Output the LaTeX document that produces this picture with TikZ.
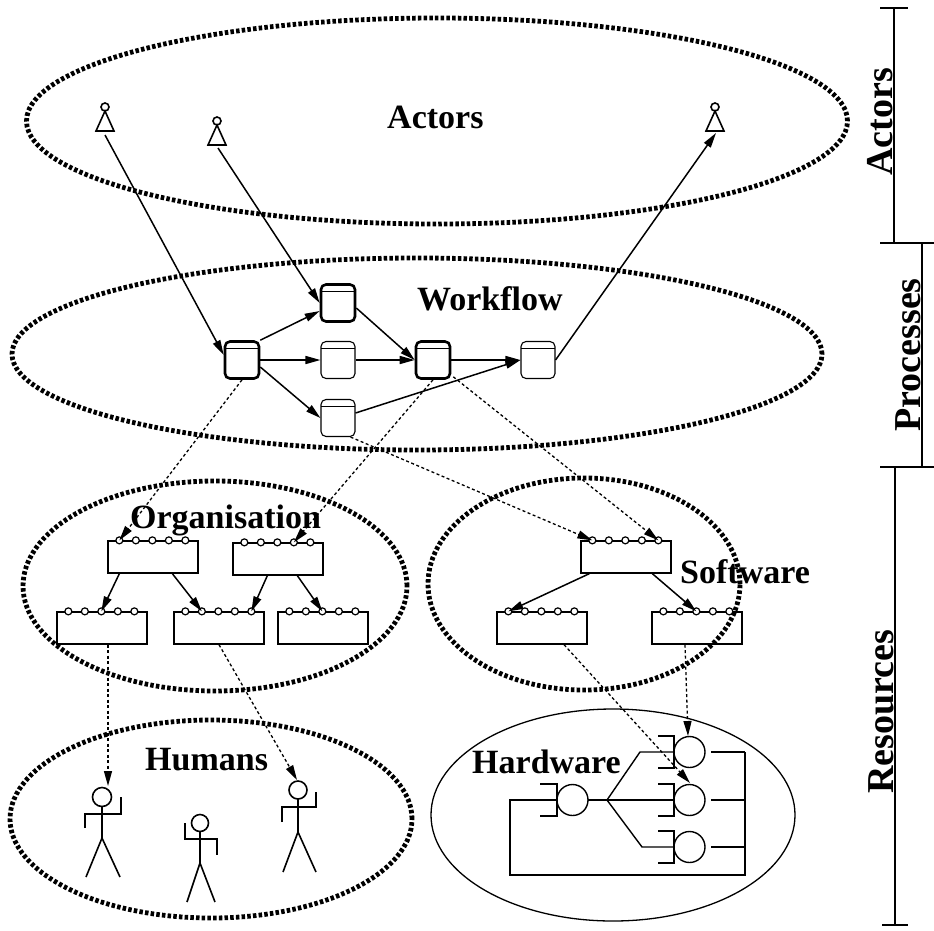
\documentclass[tikz,border=0pt]{standalone}
\usepackage{fontspec}
\setmainfont{Liberation Serif}
\usetikzlibrary{arrows.meta,shapes.geometric,calc}

% box with five pins along its top edge; pins are named <box>-1 ... <box>-5
\newcommand\pinbox[3]{%
  \node[pinrect] (#1) at (#2,#3) {};
  \foreach \k in {1,...,5}{%
    \pgfmathsetmacro\pinx{12+16.5*(\k-1)}%
    \path ([xshift=\pinx pt]#1.north west) coordinate (#1-\k);
    \draw[pincirc] (#1-\k) circle (3.5pt);
  }%
}

\tikzset{
  ring/.style={ellipse, draw, line width=4.8pt, dash pattern=on 3.5pt off 2.2pt, inner sep=0pt},
  hwring/.style={ellipse, draw, line width=1.3pt, inner sep=0pt},
  tip/.style={-{Triangle[length=15pt,width=8pt]}},
  flow/.style={line width=1.5pt, tip},
  link/.style={line width=1.3pt, dash pattern=on 3pt off 2.5pt, tip},
  task/.style={draw, rounded corners=5pt, minimum width=34pt, minimum height=37pt,
    inner sep=0pt, line width=1.1pt,
    path picture={\draw[line width=1.1pt]
      ([yshift=-7pt]path picture bounding box.north west) --
      ([yshift=-7pt]path picture bounding box.north east);}},
  keytask/.style={task, line width=2.6pt},
  pinrect/.style={draw, line width=1.3pt, minimum width=90pt, minimum height=32pt, inner sep=0pt},
  pincirc/.style={draw, line width=1.2pt, fill=white},
  lab/.style={font=\bfseries\fontsize{34}{40}\selectfont, inner sep=0pt},
  sidelab/.style={font=\bfseries\fontsize{38}{44}\selectfont, inner sep=0pt, rotate=90, anchor=base},
  fig/.style={line width=1.6pt},
  bar/.style={line width=1.4pt},
  hw/.style={line width=1.4pt},
}

\begin{document}
\begin{tikzpicture}[x=1pt,y=-1pt]
\useasboundingbox (0,0) rectangle (934,930);

% ---- layers -------------------------------------------------------
\node[ring, minimum width=821pt, minimum height=206pt] (actring) at (437,121) {};
\node[ring, minimum width=810pt, minimum height=192pt] (wfring)  at (417,354) {};
\node[ring, minimum width=384pt, minimum height=210pt] (orgring) at (215,586) {};
\node[ring, minimum width=312pt, minimum height=212pt] (swring)  at (584,584) {};
\node[ring, minimum width=402pt, minimum height=198pt] (humring) at (211,819) {};
\node[hwring, minimum width=364pt, minimum height=212pt] (hwring) at (613,815) {};

\node[lab, anchor=base west] (tact) at (387,128) {Actors};
\node[lab, anchor=base west] (twf)  at (417,310) {Workflow};
\node[lab, anchor=base west] (torg) at (130,528) {Organisation};
\node[lab, anchor=base west] (tsw)  at (680,583) {Software};
\node[lab, anchor=base west] (thum) at (145,770) {Humans};
\node[lab, anchor=base west] (thw)  at (472,773) {Hardware};

% ---- side scale ---------------------------------------------------
\draw[bar] (880,8) -- (908,8);
\draw[bar] (894,8) -- (894,243);
\draw[bar] (880,243) -- (934,243);
\draw[bar] (922,243) -- (922,467);
\draw[bar] (880,467) -- (934,467);
\draw[bar] (895,467) -- (895,925);
\draw[bar] (882,925) -- (908,925);
\node[sidelab] (sact) at (892,122) {Actors};
\node[sidelab] (spro) at (920,355) {Processes};
\node[sidelab] (sres) at (893,712) {Resources};

% ---- actors -------------------------------------------------------
\draw[fig] (105,107) circle (4pt);
\draw[fig] (105,111) -- (96,131) -- (114,131) -- cycle;
\coordinate (act1) at (105,135);
\draw[fig] (217,121) circle (4pt);
\draw[fig] (217,125) -- (208,145) -- (226,145) -- cycle;
\coordinate (act2) at (218,148);
\draw[fig] (715,107) circle (4pt);
\draw[fig] (715,111) -- (706,131) -- (724,131) -- cycle;
\coordinate (act3) at (716,133);

% ---- workflow -----------------------------------------------------
\node[keytask] (A) at (242,360) {};
\node[keytask] (B) at (338,303) {};
\node[task]    (C) at (338,360) {};
\node[task]    (D) at (338,418) {};
\node[keytask] (F) at (433,360) {};
\node[task]    (E) at (538,360) {};

\draw[flow] (act1) -- ($(A.west)+(0,-5)$);
\draw[flow] (act2) -- (B.west);
\draw[flow] (E.east) -- (act3);
\draw[flow] (A.north east) -- ($(B.west)+(0,8)$);
\draw[flow] (A.east) -- (C.west);
\draw[flow] ($(A.east)+(0,7)$) -- (D.west);
\draw[flow] ($(B.east)+(0,5)$) -- (F.west);
\draw[flow] (C.east) -- (F.west);
\draw[flow] (F.east) -- (E.west);
\draw[flow] ($(D.east)+(0,-5)$) -- (E.west);

% ---- organisation -------------------------------------------------
\pinbox{o1}{153}{557}
\pinbox{o2}{278}{559}
\pinbox{o3}{102}{628}
\pinbox{o4}{219}{628}
\pinbox{o5}{323}{628}
\draw[flow] ([xshift=12pt]o1.south west) -- (o3-3);
\draw[flow] ([xshift=65pt]o1.south west) -- (o4-2);
\draw[flow] ([xshift=35pt]o2.south west) -- (o4-5);
\draw[flow] ([xshift=65pt]o2.south west) -- (o5-3);

% ---- software -----------------------------------------------------
\pinbox{s1}{626}{557}
\pinbox{s2}{542}{628}
\pinbox{s3}{697}{628}
\draw[flow] ([xshift=9pt]s1.south west) -- (s2-1);
\draw[flow] ([xshift=72pt]s1.south west) -- (s3-3);

% ---- humans -------------------------------------------------------
\draw[fig] (102,797) circle (9.5pt);
\draw[fig] (102,806.5) -- (102,838);
\draw[fig] (86,877) -- (102,838) -- (120,877);
\draw[fig] (85,828) -- (85,814) -- (121,814) -- (121,797);
\coordinate (hum1) at (108,786);

\draw[fig] (200,823) circle (8.5pt);
\draw[fig] (200,831.5) -- (200,863);
\draw[fig] (187,902) -- (200,863) -- (215,902);
\draw[fig] (185,823) -- (185,839) -- (217,839) -- (217,855);

\draw[fig] (298,790) circle (9pt);
\draw[fig] (298,799) -- (298,832);
\draw[fig] (283,872) -- (298,832) -- (316,872);
\draw[fig] (282,822) -- (282,807) -- (316,807) -- (316,792);
\coordinate (hum3) at (297,780);

% ---- hardware -----------------------------------------------------
\draw[hw] (540,784) -- (557,784) -- (557,816) -- (540,816);
\draw[hw] (572.5,800) circle (15.5pt);
\draw[hw] (588,800) -- (607,800);
\draw[hw] (607,800) -- (640,752) -- (674,752);
\draw[hw] (607,800) -- (674,800);
\draw[hw] (607,800) -- (642,847) -- (674,847);
\foreach \yy in {752,800,847}{
  \draw[hw] (658,\yy-16) -- (674,\yy-16) -- (674,\yy+16) -- (658,\yy+16);
  \draw[hw] (689.5,\yy) circle (15.5pt);
  \draw[hw] (711,\yy) -- (745,\yy);
}
\draw[hw] (745,752) -- (745,875) -- (510,875) -- (510,800) -- (557,800);
\coordinate (hwtop) at (688,736);
\coordinate (hwmid) at (690,783);

% ---- assignments between layers -----------------------------------
\draw[link] (A.south) -- (o1-1);
\draw[link] (F.south) -- (o2-4);
\draw[link] ($(D.south east)+(-5,0)$) -- (s1-1);
\draw[link] ($(F.south east)+(2,-3)$) -- (s1-5);
\draw[link] ([xshift=6pt]o3.south) -- (hum1);
\draw[link] (o4.south) -- (hum3);
\draw[link] ([xshift=22pt]s2.south) -- (hwmid);
\draw[link] ([xshift=-12pt]s3.south) -- (hwtop);
\end{tikzpicture}
\end{document}
